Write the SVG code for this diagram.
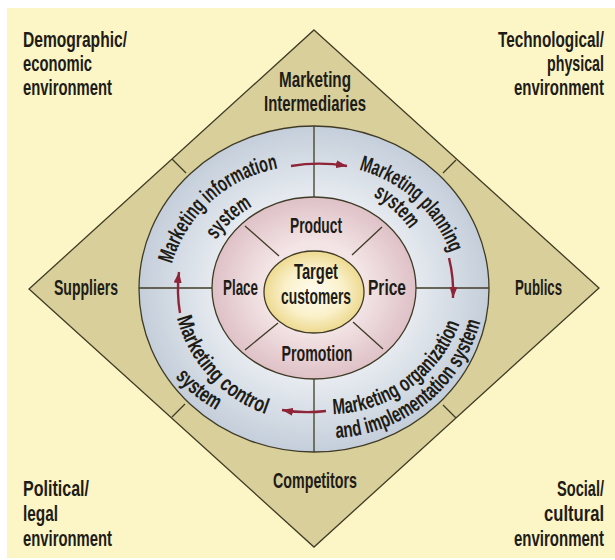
<svg xmlns="http://www.w3.org/2000/svg" width="615" height="560" viewBox="0 0 615 560">
  <defs>
    <radialGradient id="gBlue" cx="50%" cy="50%" r="50%">
      <stop offset="0.55" stop-color="#E8ECF1"/>
      <stop offset="1" stop-color="#C4CEDA"/>
    </radialGradient>
    <radialGradient id="gPink" cx="50%" cy="50%" r="50%">
      <stop offset="0.5" stop-color="#F3E4E5"/>
      <stop offset="1" stop-color="#DEC1C7"/>
    </radialGradient>
    <radialGradient id="gCore" cx="50%" cy="50%" r="50%">
      <stop offset="0" stop-color="#FFFDF2"/>
      <stop offset="0.6" stop-color="#FAF0C9"/>
      <stop offset="1" stop-color="#EDD98F"/>
    </radialGradient>
    <marker id="head" markerUnits="userSpaceOnUse" markerWidth="11" markerHeight="8" refX="11" refY="4" orient="auto">
      <path d="M0,0 L11,4 L0,8 z" fill="#8E2437"/>
    </marker>
    <!-- baselines for the curved labels -->
    <path id="pInfo1" d="M172,264 A136,136 0 0 1 281,168"/>
    <path id="pInfo2" d="M216,240 A106,106 0 0 1 255,205"/>
    <path id="pPlan1" d="M359,170 A133,133 0 0 1 451,255"/>
    <path id="pPlan2" d="M373,196 A106,106 0 0 1 412,233"/>
    <path id="pOrg1" d="M333,414 A138,138 0 0 0 464,309"/>
    <path id="pOrg2" d="M336,438 A158,158 0 0 0 484,305"/>
    <path id="pCtl1" d="M177,318 A138,138 0 0 0 272,416"/>
    <path id="pCtl2" d="M175,377 A160,160 0 0 0 218,411"/>
  </defs>
  <style>
    text { font-family: "Liberation Sans", Arial, sans-serif; font-weight: bold; font-size: 22px; fill: #1E1C16; }
    .edge { fill: none; stroke: #3F3B26; stroke-width: 1.3; }
    .arrow { fill: none; stroke: #8E2437; stroke-width: 2.4; marker-end: url(#head); }
  </style>

  <!-- page -->
  <rect x="0" y="0" width="615" height="560" fill="#FFFFFF"/>
  <rect x="7" y="8" width="608" height="550" fill="#FCF5C6"/>

  <!-- environment labels in the four corners -->
  <g id="env-demographic">
    <text x="23" y="47" textLength="104" lengthAdjust="spacingAndGlyphs">Demographic/</text>
    <text x="23" y="71" textLength="69" lengthAdjust="spacingAndGlyphs">economic</text>
    <text x="23" y="95" textLength="89" lengthAdjust="spacingAndGlyphs">environment</text>
  </g>
  <g id="env-technological">
    <text x="498" y="47" textLength="106" lengthAdjust="spacingAndGlyphs">Technological/</text>
    <text x="547" y="71" textLength="57" lengthAdjust="spacingAndGlyphs">physical</text>
    <text x="514" y="95" textLength="90" lengthAdjust="spacingAndGlyphs">environment</text>
  </g>
  <g id="env-political">
    <text x="23" y="496" textLength="66" lengthAdjust="spacingAndGlyphs">Political/</text>
    <text x="23" y="521" textLength="35" lengthAdjust="spacingAndGlyphs">legal</text>
    <text x="23" y="546" textLength="89" lengthAdjust="spacingAndGlyphs">environment</text>
  </g>
  <g id="env-social">
    <text x="557" y="496" textLength="47" lengthAdjust="spacingAndGlyphs">Social/</text>
    <text x="544" y="521" textLength="60" lengthAdjust="spacingAndGlyphs">cultural</text>
    <text x="514" y="546" textLength="90" lengthAdjust="spacingAndGlyphs">environment</text>
  </g>

  <!-- outer diamond: the four publics around the company -->
  <g id="diamond">
    <polygon points="314,30 599,288 314,547 29,289" fill="#D8CF9A" stroke="#3F3B26" stroke-width="1.3"/>
  </g>

  <!-- marketing systems ring -->
  <g id="systems-ring">
    <ellipse cx="314" cy="289" rx="175" ry="163" fill="url(#gBlue)" stroke="#3F3B26" stroke-width="1.3"/>
  </g>

  <!-- marketing mix ring -->
  <g id="mix-ring">
    <ellipse cx="314" cy="288" rx="102" ry="91" fill="url(#gPink)" stroke="#3F3B26" stroke-width="1.3"/>
  </g>

  <!-- core -->
  <g id="target-customers">
    <ellipse cx="314" cy="292" rx="50" ry="41" fill="url(#gCore)" stroke="#3F3B26" stroke-width="1.3"/>
    <text x="316" y="279" text-anchor="middle" textLength="44" lengthAdjust="spacingAndGlyphs">Target</text>
    <text x="316" y="304" text-anchor="middle" textLength="70" lengthAdjust="spacingAndGlyphs">customers</text>
  </g>

  <!-- dividing lines -->
  <g id="connectors" class="edge">
    <!-- diamond band -->
    <line x1="172" y1="159" x2="186" y2="173"/>
    <line x1="456" y1="160" x2="443" y2="173"/>
    <line x1="172" y1="417" x2="185" y2="404"/>
    <line x1="456" y1="418" x2="443" y2="405"/>
    <!-- systems ring quadrants -->
    <line x1="314" y1="126" x2="314" y2="197"/>
    <line x1="314" y1="379" x2="314" y2="452"/>
    <line x1="139" y1="288" x2="212" y2="288"/>
    <line x1="416" y1="288" x2="489" y2="288"/>
    <!-- marketing mix segments -->
    <line x1="245" y1="226" x2="279" y2="256"/>
    <line x1="382" y1="227" x2="352" y2="255"/>
    <line x1="245" y1="350" x2="278" y2="323"/>
    <line x1="383" y1="349" x2="353" y2="322"/>
    <!-- cycle arrows -->
    <path class="arrow" d="M291,166 A170,170 0 0 1 347,166"/>
    <path class="arrow" d="M449,258 A140,140 0 0 1 453,298"/>
    <path class="arrow" d="M326,411 A150,150 0 0 1 282,410"/>
    <path class="arrow" d="M180,313 A140,140 0 0 1 179,272"/>
  </g>

  <g id="marketing-intermediaries" text-anchor="middle">
    <text x="315" y="87" textLength="72" lengthAdjust="spacingAndGlyphs">Marketing</text>
    <text x="315" y="111" textLength="102" lengthAdjust="spacingAndGlyphs">Intermediaries</text>
  </g>
  <g id="suppliers">
    <text x="54" y="295" textLength="64" lengthAdjust="spacingAndGlyphs">Suppliers</text>
  </g>
  <g id="publics">
    <text x="515" y="295" textLength="47" lengthAdjust="spacingAndGlyphs">Publics</text>
  </g>
  <g id="competitors">
    <text x="315" y="488" text-anchor="middle" textLength="84" lengthAdjust="spacingAndGlyphs">Competitors</text>
  </g>

  <g id="product"><text x="316" y="233" text-anchor="middle" textLength="52" lengthAdjust="spacingAndGlyphs">Product</text></g>
  <g id="place"><text x="223" y="295" textLength="35" lengthAdjust="spacingAndGlyphs">Place</text></g>
  <g id="price"><text x="368" y="295" textLength="38" lengthAdjust="spacingAndGlyphs">Price</text></g>
  <g id="promotion"><text x="317" y="361" text-anchor="middle" textLength="71" lengthAdjust="spacingAndGlyphs">Promotion</text></g>

  <g id="info-system">
    <text><textPath href="#pInfo1" textLength="150" lengthAdjust="spacingAndGlyphs">Marketing information</textPath></text>
    <text><textPath href="#pInfo2" textLength="50" lengthAdjust="spacingAndGlyphs">system</textPath></text>
  </g>
  <g id="planning-system">
    <text><textPath href="#pPlan1" textLength="128" lengthAdjust="spacingAndGlyphs">Marketing planning</textPath></text>
    <text><textPath href="#pPlan2" textLength="50" lengthAdjust="spacingAndGlyphs">system</textPath></text>
  </g>
  <g id="organization-system">
    <text><textPath href="#pOrg1" textLength="165" lengthAdjust="spacingAndGlyphs">Marketing organization</textPath></text>
    <text><textPath href="#pOrg2" textLength="198" lengthAdjust="spacingAndGlyphs">and implementation system</textPath></text>
  </g>
  <g id="control-system">
    <text><textPath href="#pCtl1" textLength="136" lengthAdjust="spacingAndGlyphs">Marketing control</textPath></text>
    <text><textPath href="#pCtl2" textLength="53" lengthAdjust="spacingAndGlyphs">system</textPath></text>
  </g>
</svg>
